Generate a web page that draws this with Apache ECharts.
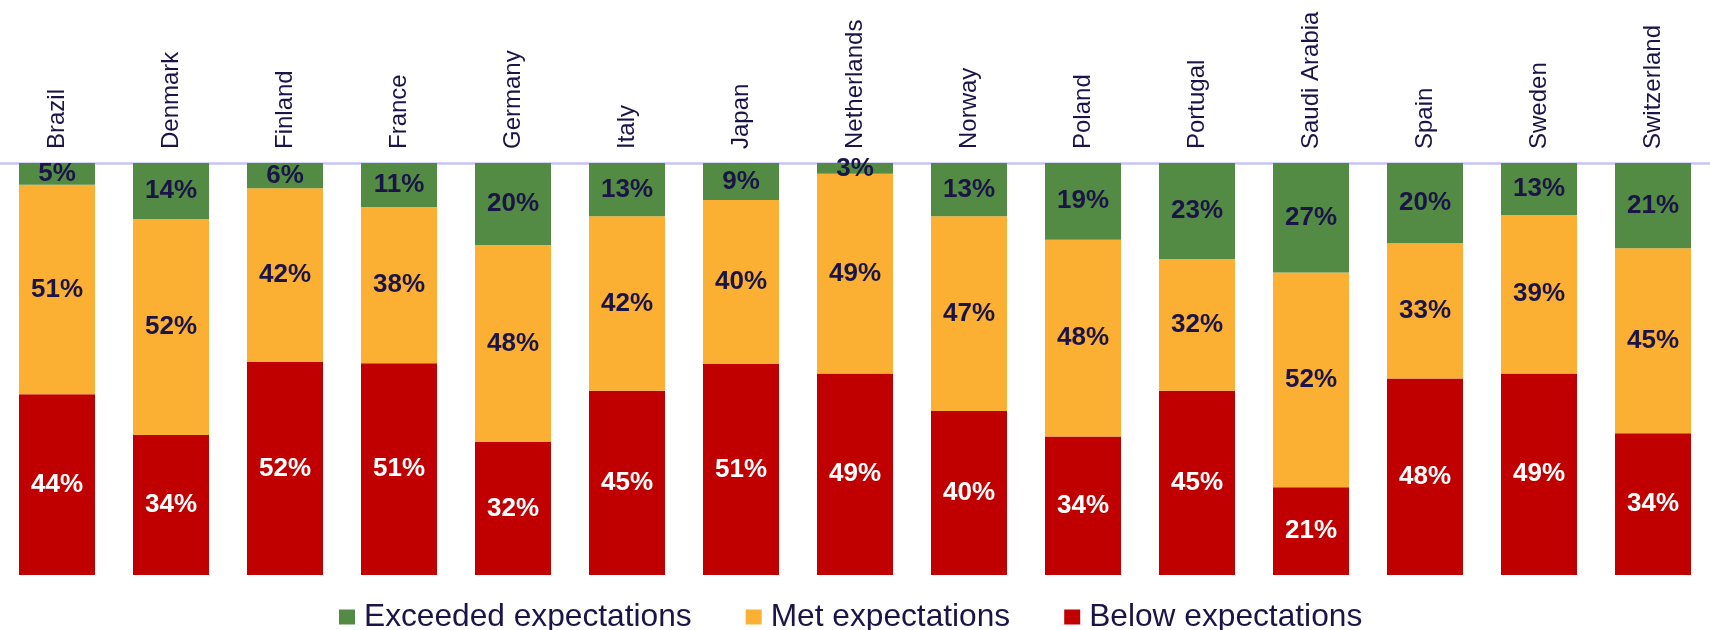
<!DOCTYPE html>
<html>
<head>
<meta charset="utf-8">
<script src="https://cdn.jsdelivr.net/npm/echarts@6/dist/echarts.min.js"></script>
<style>
html,body{margin:0;padding:0;background:#fff;}
#chart{width:1710px;height:630px;}
</style>
</head>
<body>
<div id="chart"></div>
<script>
const countries = ["Brazil","Denmark","Finland","France","Germany","Italy","Japan","Netherlands","Norway","Poland","Portugal","Saudi Arabia","Spain","Sweden","Switzerland"];
const exceeded = [5.3, 13.6, 6.1, 10.7, 19.9, 12.9, 9.0, 2.6, 12.9, 18.6, 23.3, 26.6, 19.5, 12.6, 20.7];
const met      = [50.8, 52.4, 42.2, 37.9, 47.8, 42.4, 39.8, 48.5, 47.3, 47.8, 32.0, 52.1, 32.8, 38.5, 44.9];
const below    = [43.9, 34.0, 51.7, 51.4, 32.3, 44.7, 51.2, 48.9, 39.8, 33.6, 44.7, 21.3, 47.7, 48.9, 34.4];

const navy = '#1b1446';
const font = '"Liberation Sans", Arial, sans-serif';
const fmt = p => Math.round(p.value) + '%';

function series(name, data, color, labelColor) {
  return {
    name: name, type: 'bar', stack: 'total', data: data, barWidth: 76,
    itemStyle: { color: color },
    label: { show: true, position: 'inside', formatter: fmt, color: labelColor,
             fontSize: 26, fontWeight: 'bold', fontFamily: font },
    emphasis: { disabled: true }
  };
}

const chart = echarts.init(document.getElementById('chart'));
chart.setOption({
  animation: false,
  grid: { left: 0, right: 0, top: 163, bottom: 55 },
  legend: {
    data: ['Exceeded expectations', 'Met expectations', 'Below expectations'],
    left: 334, top: 596, itemWidth: 16, itemHeight: 15, itemGap: 54, icon: 'rect',
    textStyle: { fontSize: 31.7, color: navy, fontFamily: font, padding: [0, 0, 0, 4] }
  },
  xAxis: {
    type: 'category', position: 'top', data: countries,
    axisLine: { show: true, onZero: false, lineStyle: { color: '#c8c4f6', width: 2.5 } },
    axisTick: { show: false },
    axisLabel: { rotate: -90, margin: 14, fontSize: 24, color: navy, fontFamily: font, interval: 0 }
  },
  yAxis: { type: 'value', min: 0, max: 100, show: false, splitLine: { show: false } },
  series: [
    series('Below expectations', below, '#c00000', '#ffffff'),
    series('Met expectations', met, '#fbb034', navy),
    series('Exceeded expectations', exceeded, '#538b45', navy)
  ]
});
</script>
</body>
</html>
